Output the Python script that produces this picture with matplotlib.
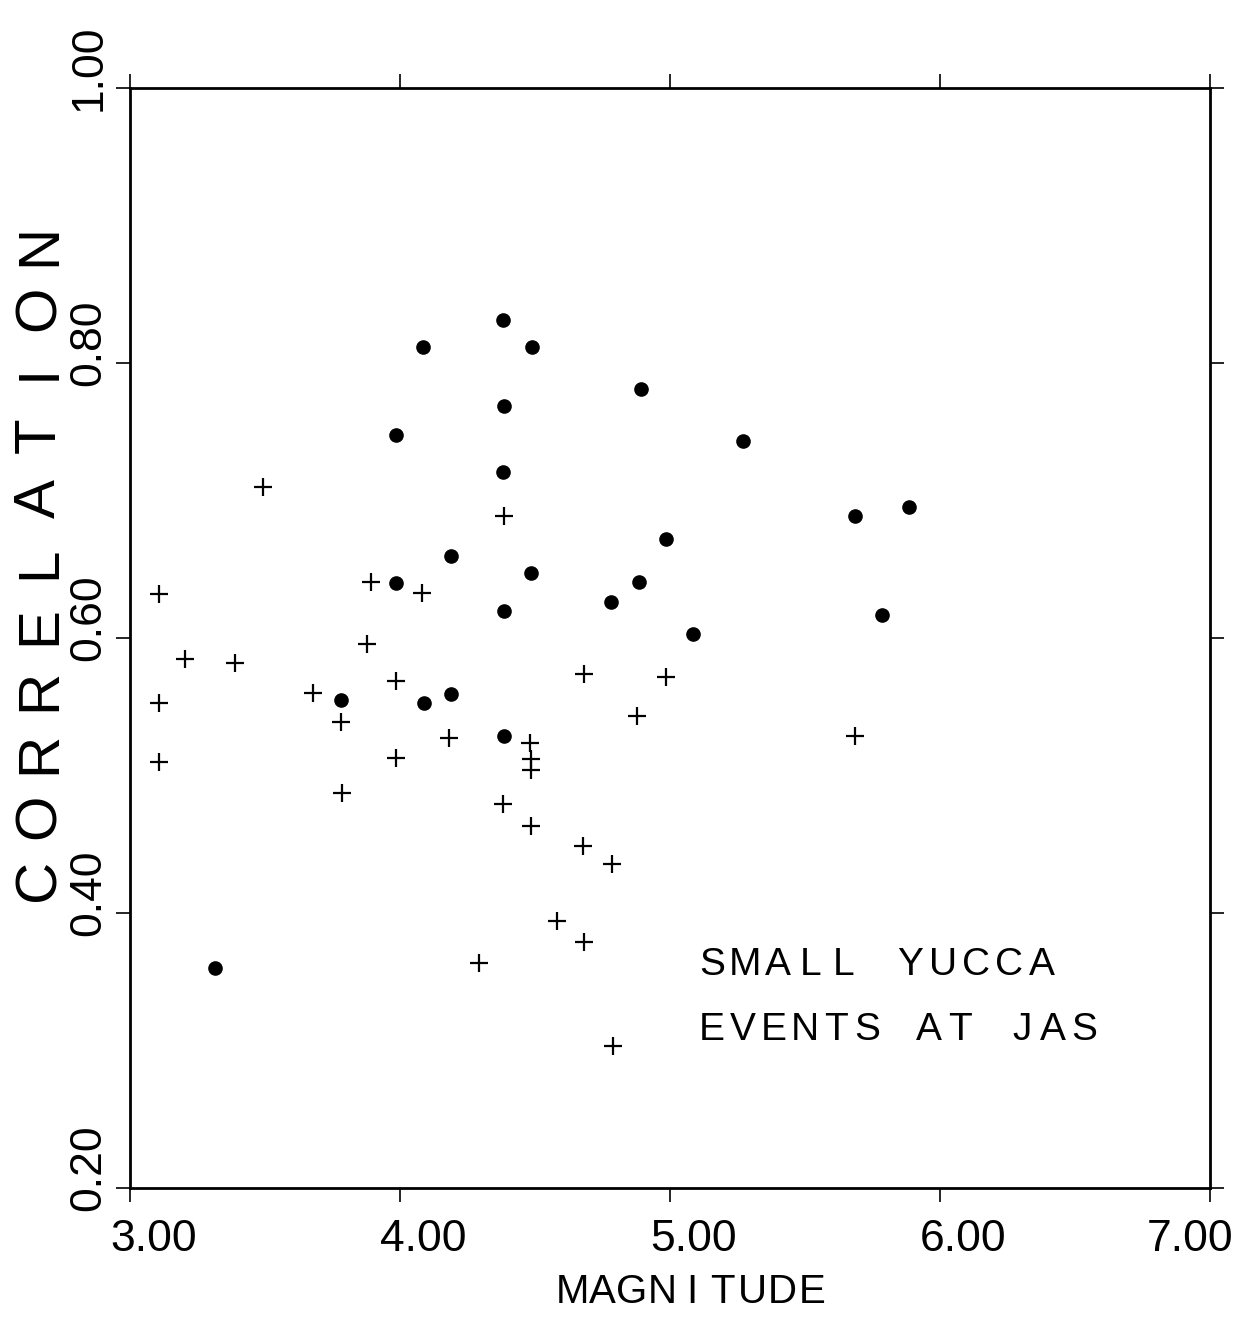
#!/usr/bin/env python3

import matplotlib
matplotlib.use("Agg")
import matplotlib.pyplot as plt
from matplotlib.transforms import ScaledTranslation

# magnitude / correlation pairs, events drawn as filled dots
dot_mag = [4.383, 4.490, 4.086, 4.891, 4.385, 3.984, 4.381, 5.270, 5.685, 5.884,
           4.984, 4.885, 4.783, 5.087, 4.484, 4.189, 3.985, 4.384, 4.189, 4.090,
           4.386, 3.782, 5.785, 3.314]
dot_corr = [0.831, 0.812, 0.812, 0.781, 0.769, 0.748, 0.721, 0.743, 0.689, 0.695,
            0.672, 0.641, 0.626, 0.603, 0.647, 0.660, 0.640, 0.620, 0.559, 0.553,
            0.529, 0.555, 0.617, 0.360]

# events drawn as crosses
cross_mag = [3.493, 3.109, 3.204, 3.389, 3.108, 3.107, 3.892, 4.082, 3.876, 3.987,
             3.678, 3.781, 3.984, 3.785, 4.183, 4.480, 4.485, 4.486, 4.382, 4.484,
             4.679, 4.785, 4.583, 4.682, 4.291, 4.789, 4.680, 4.984, 4.877, 5.685,
             4.385]
cross_corr = [0.710, 0.632, 0.585, 0.582, 0.553, 0.510, 0.641, 0.633, 0.596, 0.569,
              0.560, 0.539, 0.513, 0.487, 0.527, 0.524, 0.512, 0.504, 0.479, 0.463,
              0.449, 0.436, 0.394, 0.379, 0.364, 0.303, 0.574, 0.572, 0.543, 0.529,
              0.689]

x_ticks = [3.0, 4.0, 5.0, 6.0, 7.0]
x_tick_labels = ["3.00", "4.00", "5.00", "6.00", "7.00"]
y_ticks = [0.2, 0.4, 0.6, 0.8, 1.0]
y_tick_labels = ["0.20", "0.40", "0.60", "0.80", "1.00"]

W, H = 1257, 1319
FONT = ["Liberation Sans Narrow", "Liberation Sans", "DejaVu Sans"]


def spaced_text(fig, text, x0, y0, step, vertical=False, **kw):
    # lay out characters one by one with a fixed pitch (pixel units)
    for i, ch in enumerate(text):
        if ch == " ":
            continue
        if vertical:
            x, y = x0, y0 - i * step
            kw.setdefault("rotation", 90)
        else:
            x, y = x0 + i * step, y0
        fig.text(x / W, 1 - y / H, ch, ha="center", va="center", **kw)


fig = plt.figure(figsize=(W / 100, H / 100), dpi=100)
ax = fig.add_axes([130 / W, 1 - 1188 / H, 1080 / W, 1100 / H])

ax.plot(cross_mag, cross_corr, linestyle="none", marker="+", markersize=13,
        markeredgewidth=1.6, color="black")
ax.plot(dot_mag, dot_corr, linestyle="none", marker="o", markersize=9.5,
        color="black")

ax.set_xlim(3.0, 7.0)
ax.set_ylim(0.2, 1.0)
ax.set_xticks(x_ticks)
ax.set_xticklabels(x_tick_labels, fontfamily=FONT, fontsize=32, ha="left")
ax.set_yticks(y_ticks)
ax.set_yticklabels(y_tick_labels, fontfamily=FONT, fontsize=32,
                   rotation=90, va="center")
ax.tick_params(direction="out", length=10, width=1.2, top=True, right=True)
ax.tick_params(axis="x", pad=12)
ax.tick_params(axis="y", pad=5)
for side in ax.spines.values():
    side.set_linewidth(2.0)

# labels sit a little past their tick, along the reading direction
for t in ax.xaxis.get_major_ticks():
    t.label1.set_transform(t.label1.get_transform() +
                           ScaledTranslation(-0.2, 0, fig.dpi_scale_trans))
# the last one is pulled back so it stays on the page
ax.xaxis.get_major_ticks()[-1].label1.set_horizontalalignment("center")
for t in ax.yaxis.get_major_ticks():
    t.label1.set_transform(t.label1.get_transform() +
                           ScaledTranslation(0, 0.2, fig.dpi_scale_trans))

spaced_text(fig, "CORRELATION", 40, 880, 63.5, vertical=True,
            fontfamily=FONT, fontsize=42)
spaced_text(fig, "MAGNITUDE", 572, 1292, 30, fontfamily=FONT, fontsize=29)

spaced_text(fig, "SMALL YUCCA", 712, 965, 33, fontfamily=FONT, fontsize=28)
spaced_text(fig, "EVENTS AT JAS", 712, 1030, 31, fontfamily=FONT, fontsize=28)

fig.savefig("out.png", dpi=100)
